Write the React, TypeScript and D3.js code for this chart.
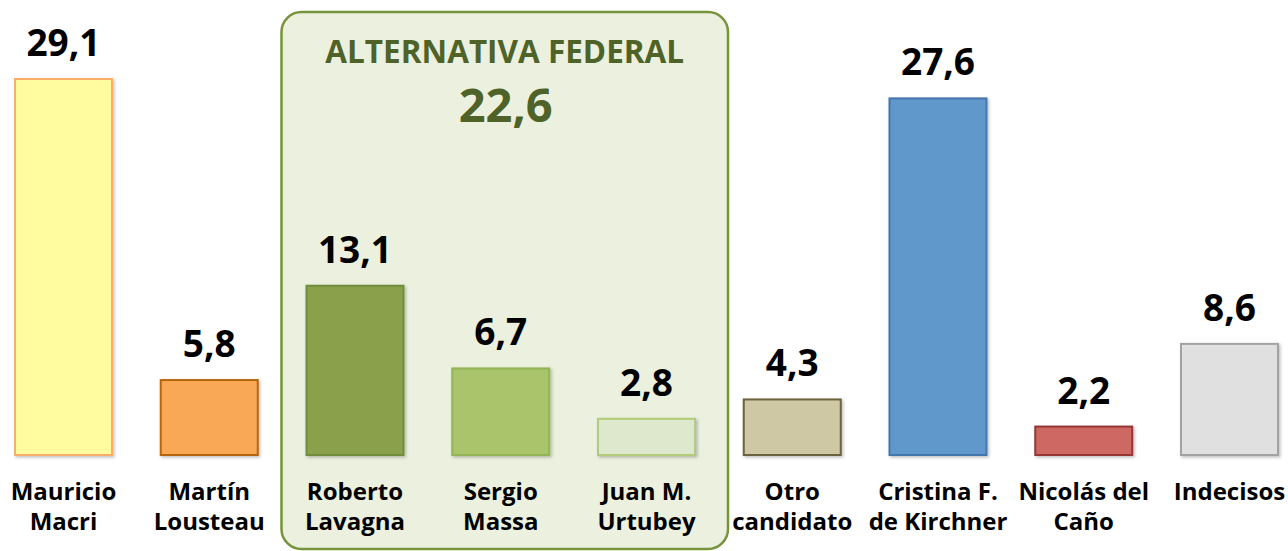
import React, { useEffect, useRef } from "react";
import * as d3 from "d3";

// survey data
const candidates = [
  "Mauricio Macri",
  "Martín Lousteau",
  "Roberto Lavagna",
  "Sergio Massa",
  "Juan M. Urtubey",
  "Otro candidato",
  "Cristina F. de Kirchner",
  "Nicolás del Caño",
  "Indecisos",
];
const labelLines = [
  ["Mauricio", "Macri"],
  ["Martín", "Lousteau"],
  ["Roberto", "Lavagna"],
  ["Sergio", "Massa"],
  ["Juan M.", "Urtubey"],
  ["Otro", "candidato"],
  ["Cristina F.", "de Kirchner"],
  ["Nicolás del", "Caño"],
  ["Indecisos"],
];
const values = [29.1, 5.8, 13.1, 6.7, 2.8, 4.3, 27.6, 2.2, 8.6];
const fills = ["#FFFB9E", "#F9A857", "#8AA04C", "#A9C46A", "#DEE8CC", "#CEC8A5", "#6198CC", "#CD6762", "#E0E0E0"];
const strokes = ["#F8AE66", "#B5650E", "#718C3C", "#93B454", "#B3CC7A", "#6B6240", "#4276AC", "#953834", "#A3A3A3"];
const groupMembers = ["Roberto Lavagna", "Sergio Massa", "Juan M. Urtubey"];
const groupTitle = "ALTERNATIVA FEDERAL";
const groupTotal = 22.6;

const W = 1288;
const H = 551;
const fmt = (v: number) => v.toFixed(1).replace(".", ",");
const font = "'Open Sans', sans-serif";

export default function App() {
  const svgRef = useRef<SVGSVGElement | null>(null);

  useEffect(() => {
    const svg = d3.select(svgRef.current);
    svg.selectAll("*").remove();

    const x = d3.scaleBand<string>().domain(candidates).range([15, 1278]).paddingInner(0.3345).paddingOuter(0);
    const y = d3.scaleLinear().domain([0, 30]).range([455, 67.4]);

    const defs = svg.append("defs");
    const f = defs.append("filter").attr("id", "shadow").attr("x", "-10%").attr("y", "-10%").attr("width", "130%").attr("height", "130%");
    f.append("feDropShadow").attr("dx", 1.5).attr("dy", 1.5).attr("stdDeviation", 1.5).attr("flood-color", "#000").attr("flood-opacity", 0.25);

    // group box
    const gx0 = x(groupMembers[0])! - 25;
    const gx1 = x(groupMembers[groupMembers.length - 1])! + x.bandwidth() + 33;
    svg.append("rect")
      .attr("x", gx0)
      .attr("y", 12)
      .attr("width", gx1 - gx0)
      .attr("height", 537)
      .attr("rx", 20)
      .attr("fill", "#EBF1DE")
      .attr("stroke", "#77933C")
      .attr("stroke-width", 2.5);
    const gc = (gx0 + gx1) / 2;
    svg.append("text")
      .attr("x", gc)
      .attr("y", 63)
      .attr("text-anchor", "middle")
      .attr("font-family", font)
      .attr("font-weight", 700)
      .attr("font-size", 31.5)
      .attr("fill", "#4F6228")
      .text(groupTitle);
    svg.append("text")
      .attr("x", gc + 1)
      .attr("y", 122)
      .attr("text-anchor", "middle")
      .attr("font-family", font)
      .attr("font-weight", 700)
      .attr("font-size", 47)
      .attr("fill", "#4F6228")
      .text(fmt(groupTotal));

    // bars
    svg.append("g")
      .selectAll("rect")
      .data(values)
      .join("rect")
      .attr("x", (_, i) => x(candidates[i])!)
      .attr("y", (d) => y(d))
      .attr("width", x.bandwidth())
      .attr("height", (d) => y(0) - y(d))
      .attr("fill", (_, i) => fills[i])
      .attr("stroke", (_, i) => strokes[i])
      .attr("stroke-width", 2)
      .attr("filter", "url(#shadow)");

    // value labels
    svg.append("g")
      .selectAll("text")
      .data(values)
      .join("text")
      .attr("x", (_, i) => x(candidates[i])! + x.bandwidth() / 2)
      .attr("y", (d) => y(d) - 23)
      .attr("text-anchor", "middle")
      .attr("font-family", font)
      .attr("font-weight", 700)
      .attr("font-size", 37)
      .attr("fill", "#000")
      .text((d) => fmt(d));

    // category labels
    const cat = svg.append("g")
      .selectAll("text")
      .data(labelLines)
      .join("text")
      .attr("x", (_, i) => x(candidates[i])! + x.bandwidth() / 2)
      .attr("y", 500)
      .attr("text-anchor", "middle")
      .attr("font-family", font)
      .attr("font-weight", 700)
      .attr("font-size", 24)
      .attr("fill", "#000");
    cat.each(function (lines, i) {
      const t = d3.select(this);
      const cx = x(candidates[i])! + x.bandwidth() / 2;
      lines.forEach((l, j) => {
        t.append("tspan").attr("x", cx).attr("dy", j === 0 ? 0 : 30).text(l);
      });
    });
  }, []);

  return (
    <svg
      ref={svgRef}
      width={W}
      height={H}
      style={{ position: "absolute", left: 0, top: 0, display: "block", background: "#fff" }}
    />
  );
}
